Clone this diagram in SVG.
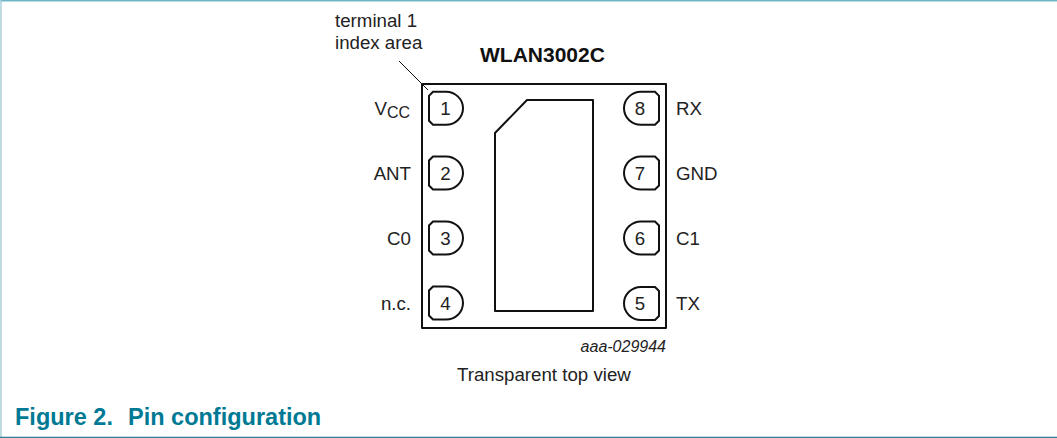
<svg xmlns="http://www.w3.org/2000/svg" width="1057" height="438" viewBox="0 0 1057 438">
<style>
text{font-family:"Liberation Sans",Arial,sans-serif;font-size:18.700px;fill:#222}
.m{text-anchor:middle}
.e{text-anchor:end}
.s{fill:none;stroke:#111;stroke-width:2;stroke-linejoin:round}
.p{fill:#fff;stroke:#111;stroke-width:2}
</style>
<defs>
<path id="pl" class="p" d="M-13-16.500H0A17 16.500 0 0 1 0 16.500H-13L-17 12.500V-12.500Z"/>
<path id="pr" class="p" d="M14-16.500H0A17 16.500 0 0 0 0 16.500H14L18 12.500V-12.500Z"/>
</defs>
<rect width="1057" height="438" fill="#fff"/>
<g id="frame">
<path d="M0 .5H1057" stroke="#6fb5c6" stroke-width="2" fill="none"/>
<path d="M1 0V437" stroke="#a9cfd9" stroke-width="1.500" fill="none"/>
<path d="M0 437.500H1057" stroke="#2f7f96" stroke-width="1.500" fill="none"/>
</g>
<g id="package"><rect class="s" x="422" y="84" width="244" height="244"/></g>
<g id="pad"><path class="s" d="M495 133L527 100H593V311H495Z"/></g>
<g id="pin1"><use href="#pl" x="446" y="108.300"/><text class="m" x="445.500" y="115">1</text><text class="e" x="410" y="115"><tspan>V</tspan><tspan font-size="16" dy="3">CC</tspan></text></g>
<g id="pin2"><use href="#pl" x="446" y="173"/><text class="m" x="445.500" y="180">2</text><text class="e" x="411" y="180">ANT</text></g>
<g id="pin3"><use href="#pl" x="446" y="238"/><text class="m" x="445.500" y="245">3</text><text class="e" x="411" y="245">C0</text></g>
<g id="pin4"><use href="#pl" x="446" y="303"/><text class="m" x="445.500" y="310">4</text><text class="e" x="411" y="310">n.c.</text></g>
<g id="pin5"><use href="#pr" x="641" y="303.500"/><text class="m" x="640" y="310">5</text><text x="676" y="310">TX</text></g>
<g id="pin6"><use href="#pr" x="641" y="238"/><text class="m" x="640" y="245">6</text><text x="676" y="245">C1</text></g>
<g id="pin7"><use href="#pr" x="641" y="173"/><text class="m" x="640" y="180">7</text><text x="676" y="180">GND</text></g>
<g id="pin8"><use href="#pr" x="641" y="108.300"/><text class="m" x="640" y="115">8</text><text x="676" y="115">RX</text></g>
<g id="connectors"><path d="M399 61L428 90" stroke="#111" stroke-width="1" fill="none"/></g>
<g id="labels">
<text x="335" y="27">terminal 1</text>
<text x="335" y="49">index area</text>
<text x="480" y="61.500" style="font-weight:bold;font-size:21px;fill:#111">WLAN3002C</text>
<text x="666" y="351.500" class="e" style="font-style:italic;font-size:16px">aaa-029944</text>
<text x="457" y="381">Transparent top view</text>
<text x="15" y="425" style="font-weight:bold;font-size:23.500px;fill:#007a94">Figure 2.</text>
<text x="128" y="425" style="font-weight:bold;font-size:23.500px;fill:#007a94">Pin configuration</text>
</g>
</svg>
